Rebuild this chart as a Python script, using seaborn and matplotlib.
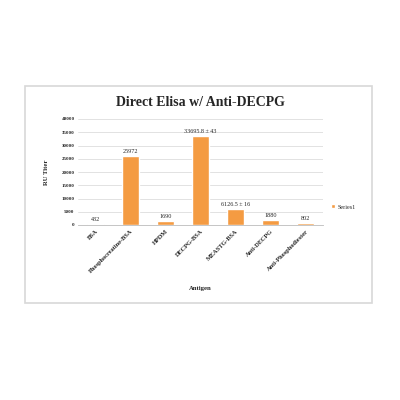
import matplotlib
matplotlib.use('Agg')
import matplotlib.pyplot as plt
import seaborn as sns
import pandas as pd
from matplotlib.patches import Rectangle

# Data
antigens = ['BSA', 'Phosphocreatine-BSA', 'HPDM', 'DECPG-BSA', 'MEASTG-BSA',
            'Anti-DECPG', 'Anti-Phosphodiester']
titers = [432, 25972, 1690, 33695.8, 6126.5, 1880, 802]
bar_labels = ['432', '25972', '1690', '33695.8 ± 43', '6126.5 ± 16', '1880', '802']
y_ticks = [0, 5000, 10000, 15000, 20000, 25000, 30000, 35000, 40000]

df = pd.DataFrame({'Antigen': antigens, 'Titer': titers})

sns.set_style('white')
plt.rcParams['font.family'] = ['Liberation Serif', 'DejaVu Serif']

fig = plt.figure(figsize=(4, 4), dpi=100)
ax = fig.add_axes([0.195, 0.4375, 0.6125, 0.265])

sns.barplot(data=df, x='Antigen', y='Titer', color='#F49B42', width=0.46,
            saturation=1, ax=ax, label='Series1')

ax.set_ylim(0, 40000)
ax.set_yticks(y_ticks)
ax.set_yticklabels([str(t) for t in y_ticks], fontsize=3.6, fontweight='bold')
ax.yaxis.grid(True, color='#DDDDDD', linewidth=0.6)
ax.set_axisbelow(True)
for s in ['top', 'right', 'left']:
    ax.spines[s].set_visible(False)
ax.spines['bottom'].set_color('#BBBBBB')
ax.spines['bottom'].set_linewidth(0.6)
ax.tick_params(axis='both', length=0, pad=2.5)
ax.set_xticks(range(len(antigens)))
ax.set_xticklabels(antigens, rotation=45, ha='right', rotation_mode='anchor',
                   fontsize=4.6, fontweight='bold')

for i, (v, lab) in enumerate(zip(titers, bar_labels)):
    ax.text(i, v + 700, lab, ha='center', va='bottom', fontsize=4.4)

ax.set_xlabel('Antigen', fontsize=4.8, fontweight='bold', labelpad=9)
ax.set_ylabel('RU Titer', fontsize=4.8, fontweight='bold', labelpad=9)
ax.set_title('Direct Elisa w/ Anti-DECPG', fontsize=10, fontweight='bold', pad=9)

leg = ax.legend(loc='center left', bbox_to_anchor=(1.01, 0.17), frameon=False,
                fontsize=4.4, handlelength=0.6, handleheight=0.6, handletextpad=0.5)

fig.patches.append(Rectangle((0.0625, 0.2425), 0.8675, 0.5425, transform=fig.transFigure,
                             fill=False, edgecolor='#D8D8D8', linewidth=1.2))

fig.savefig('out.png', dpi=100, facecolor='white')
